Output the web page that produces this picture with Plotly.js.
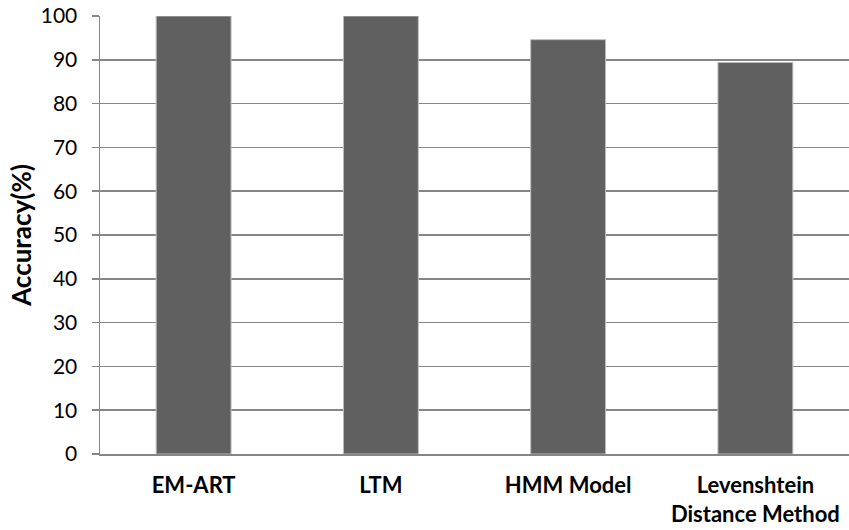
<!DOCTYPE html>
<html><head><meta charset="utf-8">
<script src="https://cdn.plot.ly/plotly-3.0.1.min.js"></script>
<style>html,body{margin:0;padding:0;background:#fff}</style>
</head><body>
<div id="chart" style="width:849px;height:530px"></div>
<script>
const categories = ["EM-ART", "LTM", "HMM Model", "Levenshtein<br>Distance Method"];
const accuracy = [100, 100, 94.6, 89.4];
const yTicks = [0, 10, 20, 30, 40, 50, 60, 70, 80, 90, 100];

const font = "Lato, 'Open Sans', 'Liberation Sans', sans-serif";
Plotly.newPlot("chart", [{
  type: "bar",
  x: categories,
  y: accuracy,
  marker: {color: "#606060", line: {color: "#bfbfbf", width: 1}},
  width: 0.4,
  hoverinfo: "none"
}], {
  width: 849, height: 530,
  margin: {l: 100, r: 0, t: 16, b: 76},
  paper_bgcolor: "#fff", plot_bgcolor: "#fff",
  showlegend: false,
  font: {family: font, color: "#000"},
  xaxis: {
    type: "category",
    showline: true, linecolor: "#868686", linewidth: 1.5,
    ticks: "", showgrid: false, zeroline: false,
    tickfont: {size: 22, family: font, weight: "bold"},
    ticklabelstandoff: 11,
    fixedrange: true
  },
  yaxis: {
    range: [0, 100],
    tickvals: yTicks, ticktext: yTicks.map(String),
    showline: true, linecolor: "#868686", linewidth: 1.5,
    ticks: "outside", ticklen: 7, tickcolor: "#868686", tickwidth: 1.5,
    showgrid: true, gridcolor: "#868686", gridwidth: 1.5,
    zeroline: false,
    tickfont: {size: 21, family: font},
    ticklabelstandoff: 10,
    title: {text: "Accuracy(%)", font: {size: 26, family: font, weight: "bold"}, standoff: 1},
    fixedrange: true
  }
}, {displayModeBar: false, staticPlot: true});
</script>
</body></html>
